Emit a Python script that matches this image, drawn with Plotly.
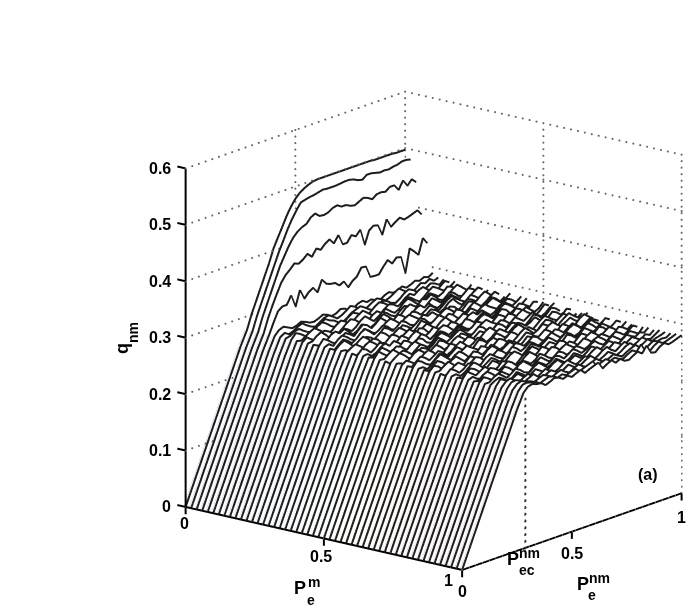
import plotly.graph_objects as go
import numpy as np

RISE_Y = [0, .05, .10, .15, .20, .25, .28]
RISE_Q = [0, .05, .10, .15, .20, .25, .276]
PLATEAU_Y = [round(.30 + .02 * i, 2) for i in range(36)]
X_POS = [round(.02 * i, 2) for i in range(51)]
ROWS = [
 [300,320,340,360,380,403,420,436,453,467,478,486,491,495,498,499,499,499,499,499,499,499,499,499,499,499,499,499,498,498,498,498,498,497,497,497],
 [300,320,340,360,380,400,417,435,450,463,474,476,478,479,481,483,482,482,482,483,484,484,482,478,476,482,482,480,478,479,478,480,481,484,484,482],
 [300,320,340,360,380,395,410,422,430,435,438,447,451,444,443,445,450,452,447,447,443,441,445,449,446,441,447,448,446,452,452,441,455,443,452,444],
 [300,320,338,355,366,373,381,378,383,390,382,394,389,397,402,392,404,385,385,396,391,400,370,393,399,397,377,402,386,392,397,391,393,396,399,389],
 [295,312,318,318,332,309,336,318,327,332,321,341,331,328,327,320,324,311,320,325,338,337,316,315,315,326,335,326,334,332,300,342,334,325,352,340],
 [284,287,283,279,281,285,282,278,277,280,284,281,276,278,283,281,275,277,282,284,279,281,277,275,280,283,279,281,285,280,283,287,284,288,285,290],
 [281,276,279,284,287,281,276,273,278,283,285,280,274,277,282,288,284,278,273,276,281,285,281,276,279,284,289,283,277,274,279,285,282,287,281,284],
 [278,283,285,279,274,271,276,282,286,281,278,272,270,275,281,284,287,282,276,272,278,283,280,274,271,276,283,287,283,277,273,279,284,281,276,283],
 [285,281,275,272,278,284,288,283,276,271,268,274,281,286,282,277,272,276,283,288,284,278,271,267,273,280,284,279,285,288,281,275,272,279,285,280],
 [274,279,284,288,282,276,270,273,280,285,281,274,278,284,289,283,276,269,272,279,284,281,275,279,286,282,275,270,276,283,288,283,277,272,278,284],
 [282,276,271,277,283,279,273,269,275,282,287,283,276,270,274,281,285,279,284,277,271,275,283,288,282,274,271,278,284,279,273,277,285,282,275,279],
 [277,284,288,281,272,268,274,281,277,271,276,284,289,282,275,280,286,281,274,270,277,283,279,272,276,284,281,287,280,272,269,276,283,288,281,274],
 [272,268,275,283,286,280,285,278,270,274,282,278,271,275,283,287,280,272,269,276,284,288,282,276,271,278,285,279,272,278,285,281,273,270,277,285],
 [286,281,274,270,277,283,278,272,280,287,283,275,281,288,281,273,276,283,278,271,275,282,286,279,284,276,270,274,281,286,279,273,279,286,282,276],
 [279,273,281,286,281,274,269,276,284,279,272,268,275,282,286,280,273,270,278,285,281,274,279,285,279,271,277,284,288,281,275,270,276,282,287,281],
 [271,278,284,279,272,277,285,289,282,274,278,284,280,272,269,276,283,287,281,275,270,277,283,279,272,276,284,288,279,272,277,284,279,272,275,282],
 [283,287,280,272,268,274,280,276,270,277,285,281,274,279,286,282,274,271,278,284,279,283,276,270,274,282,279,271,276,284,281,275,282,287,280,273],
 [275,270,276,283,288,282,274,279,285,280,272,269,276,284,279,273,278,285,281,272,269,276,283,287,281,274,270,277,285,282,274,269,274,281,286,279],
 [281,285,279,273,278,284,280,271,268,275,282,287,281,274,270,277,286,280,274,279,285,279,272,276,284,280,273,280,286,279,272,277,284,279,271,277],
 [270,275,283,287,281,274,271,278,285,281,274,279,284,277,272,278,283,276,270,274,281,287,282,274,269,276,283,277,271,275,283,288,281,274,279,285],
 [284,280,272,277,284,279,273,269,276,283,277,271,276,285,282,273,270,277,284,288,280,273,278,284,279,272,276,283,287,280,275,270,276,283,279,272],
 [277,271,274,281,285,278,284,278,271,275,283,288,281,273,277,284,279,271,276,282,278,271,275,283,286,279,284,277,270,273,281,285,279,273,278,284],
 [273,280,285,279,272,269,276,284,280,273,278,285,279,270,275,283,287,282,274,270,276,284,280,273,279,285,278,271,275,283,287,282,275,270,277,283],
 [286,279,273,278,284,281,274,270,277,285,281,272,269,277,284,279,272,276,283,279,272,269,275,283,287,281,274,279,285,281,272,277,284,280,274,270],
 [275,281,286,279,271,276,283,287,280,274,269,275,282,286,280,273,278,285,279,273,277,284,280,272,269,276,283,278,272,275,283,279,272,276,284,281],
 [269,274,280,284,279,272,278,284,279,271,277,285,279,272,276,282,286,279,272,269,277,283,287,280,275,270,276,284,280,274,279,285,278,271,275,283],
 [282,287,281,273,270,277,283,279,272,276,285,281,274,270,277,284,279,273,278,285,281,273,270,277,283,279,272,276,283,288,281,275,270,276,284,279],
 [274,270,276,283,287,281,274,279,285,279,271,275,283,287,281,274,269,276,282,277,271,277,284,280,272,278,285,279,273,278,283,276,270,274,281,286],
 [281,276,270,274,282,286,280,272,269,276,284,279,273,279,285,281,273,277,284,288,281,274,270,276,283,279,271,269,276,284,279,272,277,285,281,274],
 [272,279,285,280,273,278,284,279,271,275,282,287,280,272,276,283,279,270,274,281,285,279,273,279,285,281,274,278,284,277,271,275,283,279,272,276],
 [285,281,274,270,277,284,280,273,279,285,279,272,269,276,284,280,273,279,285,279,272,276,283,287,280,272,268,274,281,286,280,274,270,277,285,281],
 [276,270,275,283,288,281,274,269,276,282,287,281,276,270,274,281,285,278,272,277,284,279,271,275,282,276,270,278,284,280,273,279,284,278,271,276],
 [271,277,284,279,272,276,283,287,281,273,269,275,283,279,272,278,285,281,274,270,276,283,288,281,273,277,284,279,272,269,276,282,287,280,274,279],
 [283,279,271,275,282,286,279,272,277,284,280,273,278,285,279,271,274,282,277,272,278,285,280,273,269,275,283,287,280,274,279,284,277,271,276,282],
 [276,282,287,280,272,269,276,283,278,272,276,284,288,281,274,279,284,277,270,275,283,279,272,278,284,279,272,276,283,278,271,275,283,287,280,274],
 [270,274,281,285,279,273,278,284,280,272,269,277,283,278,271,276,284,280,274,279,285,281,273,270,277,284,280,273,279,284,278,271,276,282,277,272],
 [284,279,272,276,283,279,271,274,282,286,280,274,270,277,285,280,272,276,283,278,271,275,281,286,279,272,276,283,287,281,273,279,284,277,271,276],
 [277,271,275,282,287,281,273,278,284,279,272,276,283,279,272,269,276,284,280,274,279,285,279,272,277,283,278,271,274,281,286,280,272,277,284,279],
 [272,278,284,280,273,270,277,284,279,271,276,283,287,281,274,279,285,279,272,276,282,277,271,276,284,280,273,279,285,279,273,277,282,276,270,275],
 [286,280,274,279,284,277,271,275,283,279,272,268,275,282,277,271,276,284,279,272,277,284,280,273,269,276,283,278,272,276,284,280,272,278,284,279],
 [279,273,270,277,284,280,274,279,285,280,272,276,283,288,281,274,270,277,283,279,272,276,282,277,270,274,281,285,279,272,277,283,278,271,276,282],
 [274,281,285,279,272,277,283,278,271,275,283,278,272,276,284,279,272,268,275,281,285,279,273,278,284,279,272,276,281,276,270,275,283,279,273,279],
 [283,278,272,276,282,276,270,275,283,287,280,273,278,283,276,270,276,282,278,271,275,281,276,270,274,281,284,278,271,276,282,277,271,276,282,277],
 [276,282,286,280,273,278,284,279,272,269,276,282,277,271,275,282,279,272,277,283,278,271,274,280,284,277,272,277,282,276,270,274,280,275,270,279],
 [281,284,279,272,276,283,277,271,275,282,286,279,272,276,282,276,270,274,281,276,270,275,282,277,271,276,281,275,269,275,281,276,272,277,274,280],
 [286,282,276,281,285,278,272,276,282,277,271,275,281,285,278,272,277,282,276,270,273,279,283,276,271,275,281,276,270,274,279,274,269,276,272,278],
 [284,287,281,275,280,284,278,272,277,282,276,271,274,280,284,277,271,275,280,275,269,273,279,283,275,270,276,281,274,269,273,278,272,270,275,280],
 [285,286,283,278,282,286,279,274,278,282,277,272,276,281,275,270,274,279,283,276,270,274,279,274,268,272,278,281,274,268,272,277,271,274,276,279],
 [284,287,283,281,277,281,284,280,275,279,282,276,272,277,281,275,271,276,280,274,269,273,277,272,268,273,277,280,273,267,271,276,273,275,274,279],
 [285,286,284,282,277,280,283,281,276,279,275,278,281,274,277,280,283,271,276,279,273,276,271,269,274,278,273,283,268,266,273,277,272,274,277,280],
 [284,286,283,282,276,279,283,281,276,279,274,278,281,273,277,280,283,270,275,279,272,276,270,269,274,278,272,283,268,266,273,277,272,274,277,280],
]

lx, ly, lz = [], [], []
vx, vy, vz, ti, tj, tk = [], [], [], [], [], []
tx, ty, tz, tc = [], [], [], []
for x, row in zip(X_POS, ROWS):
    ys = RISE_Y + PLATEAU_Y
    qs = RISE_Q + [v / 1000 for v in row]
    lx += [x] * len(ys) + [None]; ly += ys + [None]; lz += qs + [None]
    tx += [x - .007] * len(RISE_Y) + [None]; ty += RISE_Y + [None]; tz += RISE_Q + [None]; tc += [x] * (len(RISE_Y) + 1)
    base = len(vx)
    n = len(ys)
    vx += [x - .001] * (2 * n); vy += ys + ys; vz += [q - .001 for q in qs] + [0] * n
    for i in range(n - 1):
        ti += [base + i, base + i + 1]; tj += [base + i + 1, base + n + i + 1]; tk += [base + n + i, base + n + i]

fig = go.Figure()
XT = [0, .5, 1]; YT = [0, .5, 1]; ZT = [0, .1, .2, .3, .4, .5, .6]
gx, gy, gz = [], [], []
def dots(p, q, step):
    n = int(round(max(abs(q[i] - p[i]) / step[i] for i in range(3))))
    for a in range(n + 1):
        t = a / max(n, 1)
        gx.append(p[0] + (q[0] - p[0]) * t); gy.append(p[1] + (q[1] - p[1]) * t); gz.append(p[2] + (q[2] - p[2]) * t)
S = (.025, .03, .0115)
for z in ZT:
    dots((0, 0, z), (0, 1, z), S); dots((0, 1, z), (1, 1, z), S)
for x in XT[1:]:
    dots((x, 0, 0), (x, 1, 0), S); dots((x, 1, 0), (x, 1, .6), S)
for y in YT[1:]:
    dots((1, y, 0), (0, y, 0), S); dots((0, y, 0), (0, y, .6), S)
dots((0, 1, 0), (0, 1, .6), S)
fig.add_trace(go.Scatter3d(x=gx, y=gy, z=gz, mode="markers", marker=dict(color="#666666", size=1.2, line=dict(width=0)), hoverinfo="skip", showlegend=False))
P_EC = .286
ex, ey, ez = [], [], []
for a in range(23):
    ex.append(1); ey.append(P_EC); ez.append(a * .012)
fig.add_trace(go.Scatter3d(x=ex, y=ey, z=ez, mode="markers", marker=dict(color="#333333", size=1.8, line=dict(width=0)), hoverinfo="skip", showlegend=False))
fig.add_trace(go.Mesh3d(x=vx, y=vy, z=vz, i=ti, j=tj, k=tk, color="white", flatshading=True,
    lighting=dict(ambient=1, diffuse=0, specular=0, roughness=1, fresnel=0), hoverinfo="skip", showscale=False))
fig.add_trace(go.Scatter3d(x=tx, y=ty, z=tz, mode="lines", line=dict(color=tc, colorscale="Jet", cmin=0, cmax=1, width=1), opacity=.2, hoverinfo="skip", showlegend=False))
fig.add_trace(go.Scatter3d(x=lx, y=ly, z=lz, mode="lines", line=dict(color="#1c1c1c", width=4), hoverinfo="skip", showlegend=False))
ax, ay, az = [0, 1, None, 1, 1, None, 0, 0], [0, 0, None, 0, 1, None, 0, 0], [0, 0, None, 0, 0, None, 0, .6]
for x in XT:
    ax += [None, x, x]; ay += [None, 0, 0]; az += [None, 0, -.013]
for y in YT:
    ax += [None, 1, 1]; ay += [None, y, y]; az += [None, 0, -.013]
for z in ZT:
    ax += [None, 0, -.03]; ay += [None, 0, 0]; az += [None, z, z]
fig.add_trace(go.Scatter3d(x=ax, y=ay, z=az, mode="lines", line=dict(color="black", width=4), hoverinfo="skip", showlegend=False))

F = dict(family="Liberation Sans", size=16, color="black", weight="bold")
ann = []
for z in ZT:
    ann.append(dict(x=0, y=0, z=z, text=("%g" % z), showarrow=False, font=F, xanchor="right", yanchor="middle", xshift=-13, yshift=0))
for x, dx, dy in zip(XT, [-1, -3, -14], [-17, -18, -11]):
    ann.append(dict(x=x, y=0, z=0, text="%g" % x, showarrow=False, font=F, xshift=dx, yshift=dy))
for y, dy in zip(YT, [-22, -22, -24]):
    ann.append(dict(x=1, y=y, z=0, text="%g" % y, showarrow=False, font=F, yshift=dy))

def label(px, py, text, size=18, angle=0):
    return dict(xref="paper", yref="paper", x=px / 692, y=1 - py / 610, text=text, showarrow=False, textangle=angle,
                font=dict(family="Liberation Sans", size=size, color="black", weight="bold"), xanchor="center", yanchor="middle")
labels = [
    label(300, 588, "P"), label(314, 582, "m", 14), label(311, 600, "e", 14),
    label(583, 584, "P"), label(599, 578, "nm", 14), label(592, 595, "e", 14),
    label(513, 559, "P"), label(529, 553, "nm", 14), label(527, 570, "ec", 14),
    label(122, 349, "q", 18, -90), label(133, 333, "nm", 14, -90),
    label(648, 474, "(a)", 16),
]

def axis(r):
    return dict(range=r, visible=False, showgrid=False, showbackground=False, showticklabels=False, zeroline=False, showspikes=False)
d = np.array([.602, -.746, .282]); R = 1.74
c = np.array([-.229, -.152, .087])
e = c + d * R
fig.update_layout(
    width=692, height=610, margin=dict(l=0, r=0, t=0, b=0), paper_bgcolor="white", showlegend=False, annotations=labels,
    scene=dict(xaxis=axis([-.04, 1.01]), yaxis=axis([-.01, 1.01]), zaxis=axis([-.02, .61]), aspectmode="manual",
        aspectratio=dict(x=1.05 * 1.165, y=1.02 * 1.146, z=1.05 * 1.157), annotations=ann, domain=dict(x=[0, 1], y=[0, 1]),
        camera=dict(projection=dict(type="orthographic"), eye=dict(x=e[0], y=e[1], z=e[2]), up=dict(x=0, y=0, z=1), center=dict(x=c[0], y=c[1], z=c[2]))),
)
fig.write_html("out.html", config={"displayModeBar": False}, post_script="document.body.style.margin='0';")
